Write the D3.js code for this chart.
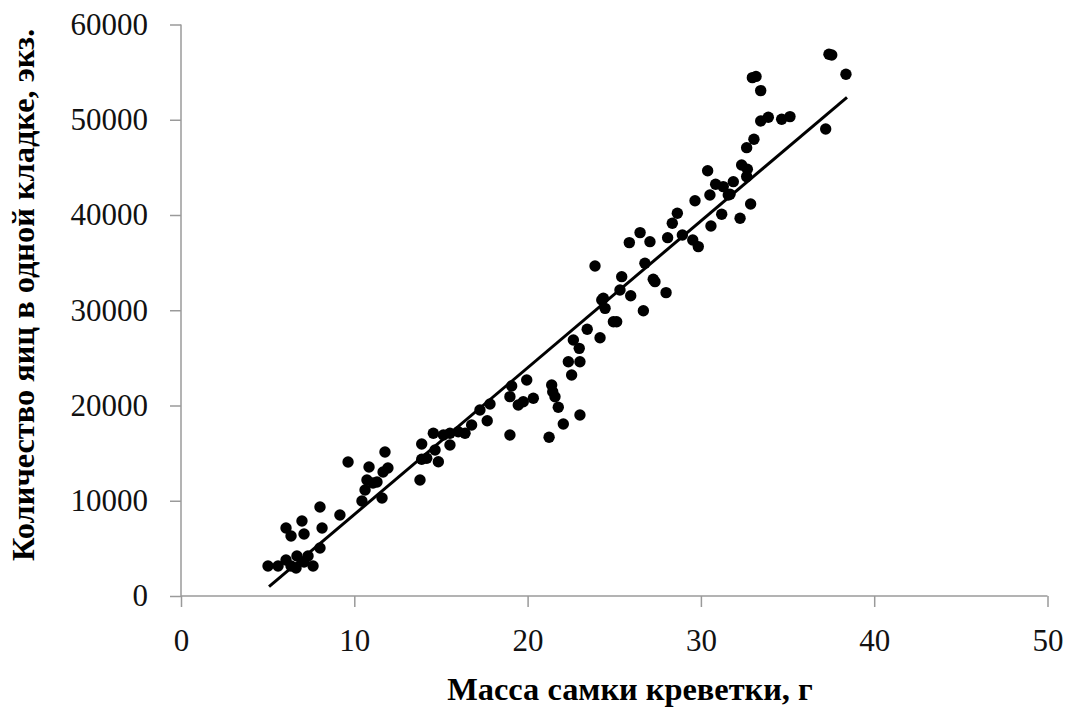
<!DOCTYPE html>
<html><head><meta charset="utf-8">
<script src="https://cdn.jsdelivr.net/npm/d3@7"></script>
<style>body{margin:0;background:#fff}svg{display:block}</style>
</head><body>
<svg id="chart" width="1071" height="722"></svg>
<script>
// Data (mass of female shrimp, g ; eggs per clutch)
const massG = [5.02,5.60,6.06,6.35,6.64,6.69,7.10,7.33,7.62,6.06,6.35,6.98,7.10,8.02,8.14,8.02,9.17,9.64,10.44,10.62,10.73,10.85,11.08,11.31,11.60,11.66,11.94,11.77,13.79,13.89,13.89,14.18,14.56,14.85,14.66,15.14,15.52,15.52,16.00,16.39,16.77,17.25,17.67,17.83,18.98,18.98,19.08,19.46,19.75,19.95,20.33,21.24,21.39,21.45,21.58,21.77,22.06,23.02,22.54,22.35,23.02,22.64,22.98,23.44,24.18,24.47,24.28,24.95,25.14,26.68,24.37,25.33,25.43,25.95,26.77,27.25,27.35,27.99,23.89,25.87,26.49,27.06,28.08,28.35,28.64,28.93,29.53,29.85,29.66,30.39,30.52,30.58,30.85,31.20,31.29,31.58,31.87,32.26,32.35,32.68,32.64,32.87,32.64,31.68,33.06,33.45,33.89,34.66,35.14,32.97,33.18,33.45,37.39,37.55,38.37,37.20];
const eggCount = [3150,3150,3780,3150,2940,4200,3570,4200,3150,7140,6300,7875,6510,5040,7140,9345,8505,14070,9975,11130,12180,13545,11865,11970,10290,13020,13440,15120,12180,15960,14350,14460,17080,14100,15330,16900,15855,17080,17250,17080,17955,19530,18400,20160,16900,20930,22050,20055,20400,22680,20760,16660,22155,21450,20925,19810,18060,19000,23200,24600,24600,26880,26000,28000,27120,30200,31080,28800,28800,29950,31260,32130,33525,31530,34930,33250,33000,31850,34650,37100,38150,37200,37620,39130,40180,37900,37380,36680,41500,44650,42100,38850,43230,40080,42980,42100,43500,39660,45250,44800,44030,41160,47070,42180,47950,49875,50260,50050,50330,54420,54550,53060,56880,56800,54780,49035];
// Linear trend line endpoints
const trendX = [5.08, 38.43];
const trendY = [976, 52357];
const xTicks = [0,10,20,30,40,50];
const yTicks = [0,10000,20000,30000,40000,50000,60000];
const xTitle = "Масса самки креветки, г";
const yTitle = "Количество яиц в одной кладке, экз.";

const svg = d3.select("#chart");
const x = d3.scaleLinear().domain([0,50]).range([181,1047.5]);
const y = d3.scaleLinear().domain([0,60000]).range([596,24.5]);
const axisColor = "#9a9a9a";
const serif = "'Liberation Serif', 'Times New Roman', serif";

// y axis
const gy = svg.append("g").attr("transform","translate(181,0)")
  .call(d3.axisLeft(y).tickValues(yTicks).tickSize(11).tickPadding(22).tickFormat(d3.format("d")));
gy.select(".domain").attr("stroke",axisColor).attr("stroke-width",1.5).attr("d",`M0,${y(60000)}V${y(0)}`);
gy.selectAll(".tick line").attr("stroke",axisColor).attr("stroke-width",1.5);
gy.selectAll(".tick text").attr("font-family",serif).attr("font-size",31).attr("fill","#111");

// x axis
const gx = svg.append("g").attr("transform",`translate(0,${y(0)})`)
  .call(d3.axisBottom(x).tickValues(xTicks).tickSize(11).tickPadding(22));
gx.select(".domain").attr("stroke",axisColor).attr("stroke-width",1.5).attr("d",`M${x(0)},0H${x(50)}`);
gx.selectAll(".tick line").attr("stroke",axisColor).attr("stroke-width",1.5);
gx.selectAll(".tick text").attr("font-family",serif).attr("font-size",31).attr("fill","#111");

// points
const pts = massG.map((m,i)=>({m, e:eggCount[i]}));
svg.append("g").selectAll("circle").data(pts).join("circle")
  .attr("cx",d=>x(d.m)).attr("cy",d=>y(d.e)).attr("r",5.7).attr("fill","#000");

// trend line
svg.append("line")
  .attr("x1",x(trendX[0])).attr("y1",y(trendY[0]))
  .attr("x2",x(trendX[1])).attr("y2",y(trendY[1]))
  .attr("stroke","#000").attr("stroke-width",3);

// titles (same condensed bold face for both)
const yt = svg.append("text").attr("transform","translate(34,295) rotate(-90)").attr("text-anchor","middle")
  .attr("font-family",serif).attr("font-weight","bold").attr("font-size",32).text(yTitle);
const factor = 532 / yt.node().getComputedTextLength();
yt.attr("textLength",532).attr("lengthAdjust","spacingAndGlyphs");
const xt = svg.append("text").attr("x",630).attr("y",700).attr("text-anchor","middle")
  .attr("font-family",serif).attr("font-weight","bold").attr("font-size",32).text(xTitle);
xt.attr("textLength", xt.node().getComputedTextLength()*factor).attr("lengthAdjust","spacingAndGlyphs");
</script>
</body></html>
